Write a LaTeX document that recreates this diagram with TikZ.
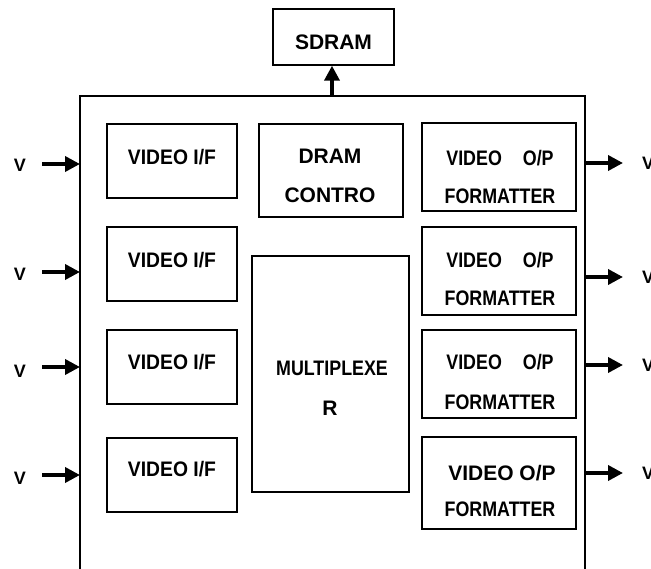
\documentclass[tikz,border=0pt]{standalone}
\usepackage{fontspec}
\setmainfont{Liberation Sans}
\newfontfamily\narrowfont{Liberation Sans}[FakeStretch=0.85]
\newfontfamily\semifont{Liberation Sans}[FakeStretch=0.92]
\usetikzlibrary{arrows.meta}
\begin{document}
\begin{tikzpicture}[x=1pt, y=-1pt,
  blk/.style={draw, line width=1.4pt, inner sep=0pt},
  lbl/.style={anchor=base, inner sep=0pt, font=\fontsize{21}{21}\selectfont\bfseries},
  vlbl/.style={anchor=base, inner sep=0pt, font=\fontsize{18}{18}\selectfont\bfseries},
  arr/.style={line width=3.6pt, -{Triangle[length=15pt, width=15pt]}}]
  \useasboundingbox (0,0) rectangle (651,569);
  \clip (0,0) rectangle (651,569);
  % outer chip, open at the bottom
  \draw[line width=1.4pt] (80,569) -- (80,96) -- (585,96) -- (585,569);
  \node[blk, minimum width=121pt, minimum height=56pt] (sdram) at (333.5,37) {};
  \node[lbl] (sdramt) at (333.5,50) {SDRAM};
  \coordinate (top) at (332,96);
  \draw[arr] (top) -- (top |- sdram.south);
  % inputs
  \foreach \i/\yb/\yt/\ya/\yv in {1/161/164.5/164/172, 2/264/267.5/272/281, 3/367/369.5/367/378, 4/475/476.5/475/484} {
    \node[blk, minimum width=130pt, minimum height=74pt] (vif\i) at (172,\yb) {};
    \node[lbl] (vif\i t) at (172,\yt) {\semifont\bfseries VIDEO I/F};
    \node[vlbl] (vin\i) at (20,\yv) {V};
    \coordinate (a\i) at (42,\ya);
    \coordinate (b\i) at (80,\ya);
    \draw[arr] (a\i) -- (b\i);
  }
  % dram controller and mux
  \node[blk, minimum width=144pt, minimum height=93pt] (dram) at (331,170.5) {};
  \node[lbl] (dramt) at (330,164) {DRAM};
  \node[lbl] (dramb) at (330,203) {CONTRO};
  \node[blk, minimum width=157pt, minimum height=236pt] (mux) at (330.5,374) {};
  \node[lbl] (muxt) at (332,375.5) {\narrowfont\bfseries MULTIPLEXE};
  \node[lbl] (muxb) at (330,415.5) {R};
  % outputs
  \foreach \i/\yb/\h/\yt/\ybt/\ya in {1/167/88/165.5/203.5/163, 2/271/88/267.5/305.5/277, 3/374/88/369.5/409.5/365} {
    \node[blk, minimum width=154pt, minimum height=\h pt] (vop\i) at (499,\yb) {};
    \node[lbl] (vop\i t) at (500,\yt) {\narrowfont\bfseries VIDEO\quad O/P};
    \node[lbl] (vop\i b) at (500,\ybt) {\narrowfont\bfseries FORMATTER};
  }
  \node[blk, minimum width=154pt, minimum height=92pt] (vop4) at (499,483) {};
  \node[lbl] (vop4t) at (502,480.5) {VIDEO O/P};
  \node[lbl] (vop4b) at (500,516.5) {\narrowfont\bfseries FORMATTER};
  \foreach \i/\ya in {1/163, 2/277, 3/365, 4/473} {
    \coordinate (c\i) at (585,\ya);
    \coordinate (d\i) at (623,\ya);
    \draw[arr] (c\i) -- (d\i);
    \node[vlbl, anchor=base west] (vout\i) at (642,\ya+6.5) {V};
  }
\end{tikzpicture}
\end{document}
